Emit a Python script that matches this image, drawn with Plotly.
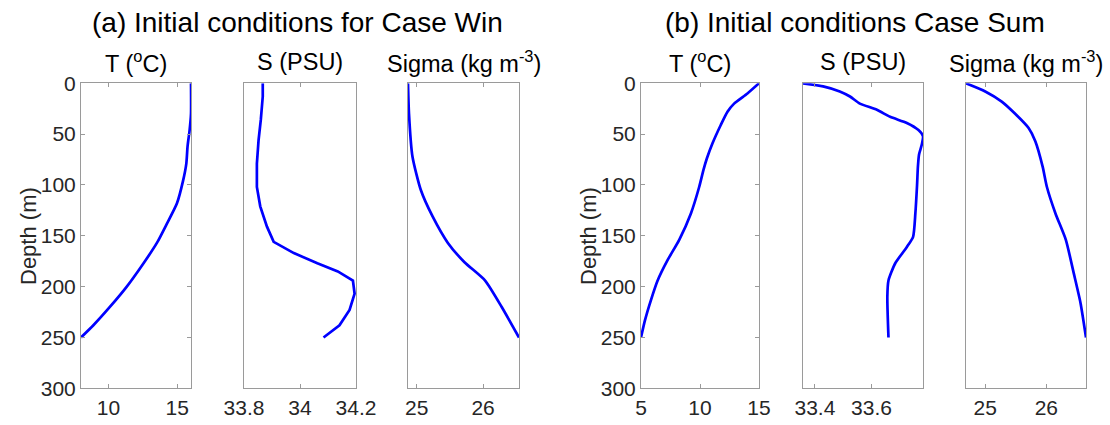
import plotly.graph_objects as go

# ---------------- data ----------------
depth_T_win = [0, 30, 46, 62, 79, 96, 118, 138, 157, 177, 200, 220, 238, 250]
T_win = [16.0, 16.0, 15.9, 15.75, 15.66, 15.42, 14.98, 14.25, 13.52, 12.55, 11.33, 10.1, 8.9, 8.0]

depth_S_win = [0, 13, 36, 56, 79, 102, 121, 141, 156, 167, 177, 185, 194, 207, 223, 238, 250]
S_win = [33.867, 33.867, 33.86, 33.852, 33.846, 33.846, 33.858, 33.882, 33.906, 33.978,
         34.062, 34.135, 34.189, 34.195, 34.177, 34.141, 34.084]

depth_Sig_win = [0, 30, 72, 105, 131, 157, 176, 194, 220, 250]
Sig_win = [24.87, 24.885, 24.937, 25.063, 25.24, 25.47, 25.72, 26.03, 26.28, 26.54]

depth_T_sum = [0, 10, 20, 28, 41, 59, 74, 85, 102, 128, 154, 174, 194, 213, 233, 250]
T_sum = [15.0, 14.02, 12.89, 12.33, 11.76, 11.06, 10.58, 10.3, 9.93, 9.23, 8.24, 7.25, 6.41, 5.85, 5.34, 5.0]

depth_S_sum = [0, 3, 8, 13, 20, 26, 33, 39, 46, 52, 60, 70, 82, 100, 128, 151, 161, 177, 194, 210, 250]
S_sum = [33.358, 33.429, 33.488, 33.524, 33.559, 33.619, 33.666, 33.725, 33.766, 33.782,
         33.778, 33.768, 33.764, 33.761, 33.755, 33.747, 33.725, 33.684, 33.66, 33.656, 33.66]

depth_Sig_sum = [0, 8, 18, 30, 44, 57, 82, 102, 128, 154, 187, 216, 250]
Sig_sum = [24.685, 25.0, 25.27, 25.49, 25.71, 25.82, 25.94, 26.01, 26.15, 26.32, 26.45, 26.56, 26.65]

depth_ticks = [0, 50, 100, 150, 200, 250, 300]
ticks_T_win = [10, 15]
ticks_S_win = [33.8, 34, 34.2]
ticks_Sig_win = [25, 26]
ticks_T_sum = [5, 10, 15]
ticks_S_sum = [33.4, 33.6]
ticks_Sig_sum = [25, 26]

group_titles = ["(a) Initial conditions for Case Win", "(b) Initial conditions Case Sum"]
panel_titles = ["T (<sup>o</sup>C)", "S (PSU)", "Sigma (kg m<sup>-3</sup>)"]
ytitle = "Depth (m)"

# ---------------- layout geometry ----------------
W, H = 1110, 425
FONT = "Liberation Sans, Arial, sans-serif"
TXT = "#262626"
AX = "#9a9a9a"
LINE = "#0000ff"

panels = [
    # (x, depth, xrange, ticks, px_left, px_right, shape)
    (T_win, depth_T_win, [8, 16], ticks_T_win, 81, 191, "spline"),
    (S_win, depth_S_win, [33.8, 34.2], ticks_S_win, 244, 356, "linear"),
    (Sig_win, depth_Sig_win, [min(Sig_win), max(Sig_win)], ticks_Sig_win, 408, 519, "spline"),
    (T_sum, depth_T_sum, [5, 15], ticks_T_sum, 641, 759, "spline"),
    (S_sum, depth_S_sum, [min(S_sum), max(S_sum)], ticks_S_sum, 803, 923, "spline"),
    (Sig_sum, depth_Sig_sum, [min(Sig_sum), max(Sig_sum)], ticks_Sig_sum, 966, 1086, "spline"),
]

top_px, bot_px = 83.3, 388.3
ydom = [1 - bot_px / H, 1 - top_px / H]

fig = go.Figure()
layout = dict(
    width=W, height=H,
    margin=dict(l=0, r=0, t=0, b=0),
    paper_bgcolor="white", plot_bgcolor="white",
    showlegend=False,
    font=dict(family=FONT, color=TXT, size=21),
)

annotations = []
for i, (xv, dv, xr, tv, pl, pr, shape) in enumerate(panels):
    n = i + 1
    xa = "x" if n == 1 else f"x{n}"
    ya = "y" if n == 1 else f"y{n}"
    fig.add_trace(go.Scatter(
        x=xv, y=dv, mode="lines", xaxis=xa, yaxis=ya,
        line=dict(color=LINE, width=2.7, shape=shape, smoothing=0.6),
        hoverinfo="skip",
    ))
    first = (i % 3 == 0)
    layout["xaxis" if n == 1 else f"xaxis{n}"] = dict(
        domain=[pl / W, pr / W], anchor=ya, range=xr,
        tickvals=tv, ticks="inside", ticklen=4, tickcolor=AX,
        showline=True, linecolor=AX, linewidth=1, mirror="ticks",
        showgrid=False, zeroline=False, automargin=False,
        tickfont=dict(size=21, color=TXT, family=FONT),
    )
    layout["yaxis" if n == 1 else f"yaxis{n}"] = dict(
        domain=ydom, anchor=xa, range=[300, 0],
        tickvals=depth_ticks, ticks="inside" if first else "", ticklen=4, tickcolor=AX,
        showticklabels=first,
        showline=True, linecolor=AX, linewidth=1,
        mirror="ticks" if first else True,
        showgrid=False, zeroline=False, automargin=False,
        tickfont=dict(size=21, color=TXT, family=FONT),
    )
    annotations.append(dict(
        text=panel_titles[i % 3], x=(pl + pr) / 2 / W, y=1 - 62 / H,
        xref="paper", yref="paper", xanchor="center", yanchor="middle",
        showarrow=False, font=dict(size=23.5, color="black", family=FONT),
    ))

for j, (cx, tx) in enumerate([(297, group_titles[0]), (855, group_titles[1])]):
    annotations.append(dict(
        text=tx, x=cx / W, y=1 - 23 / H, xref="paper", yref="paper",
        xanchor="center", yanchor="middle", showarrow=False,
        font=dict(size=28, color="black", family=FONT),
    ))

for xp in [28, 588]:
    annotations.append(dict(
        text=ytitle, x=xp / W, y=1 - 236 / H, xref="paper", yref="paper",
        xanchor="center", yanchor="middle", textangle=-90, showarrow=False,
        font=dict(size=22, color=TXT, family=FONT),
    ))

layout["annotations"] = annotations
fig.update_layout(**layout)
fig.write_html("out.html")
